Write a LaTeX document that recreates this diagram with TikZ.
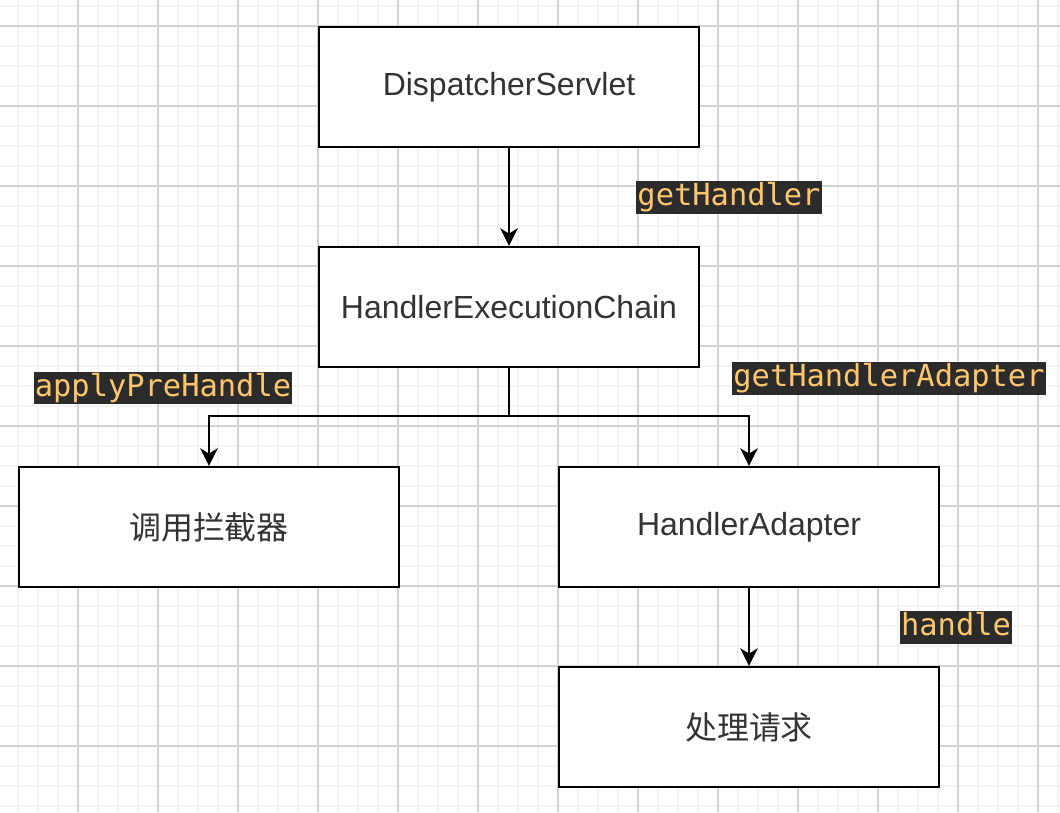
\documentclass[tikz,border=0pt]{standalone}
\usepackage{fontspec}
\setmainfont{Liberation Sans}
\newfontfamily\cjk{Noto Sans CJK SC}
\newfontfamily\codefont{DejaVu Sans Mono}
\usetikzlibrary{arrows.meta,positioning}

\definecolor{boxtext}{HTML}{333333}
\definecolor{codebg}{HTML}{2B2B2B}
\definecolor{codefg}{HTML}{FFC66D}
\definecolor{minorgrid}{HTML}{F3F3F3}
\definecolor{majorgrid}{HTML}{D2D2D2}

\begin{document}
\begin{tikzpicture}
  [node distance=4.4cm,on grid,>={Stealth[length=10pt,width=10pt,inset=3pt]},
   stage/.style={rectangle,draw=black,line width=1.3pt,fill=white,
     minimum width=7.6cm,minimum height=2.4cm,text=boxtext,font=\fontsize{18.2}{22}\selectfont},
   call/.style={fill=codebg,text=codefg,inner sep=0pt,inner xsep=0.6pt,
     text height=14pt,text depth=4.6pt,font=\codefont\fontsize{17.3}{20}\selectfont},
   link/.style={->,line width=1.3pt}]

  \useasboundingbox (0,0) rectangle (21.2,-16.24);

  % background grid
  \foreach \i in {0,...,52}
    \draw[minorgrid,line width=1.1pt] ({0.36+0.4*\i},0) -- ++(0,-16.24);
  \foreach \j in {0,...,40}
    \draw[minorgrid,line width=1.1pt] (0,{-0.12-0.4*\j}) -- ++(21.2,0);
  \foreach \i in {1,...,13}
    \draw[majorgrid,line width=0.6pt] ({-0.04+1.6*\i},0) -- ++(0,-16.24);
  \foreach \j in {0,...,9}
    \draw[majorgrid,line width=0.6pt] (0,{-0.52-1.6*\j}) -- ++(21.2,0);

  % stages
  \node [stage] (ds)    at (10.18,-1.74)                           {DispatcherServlet};
  \node [stage] (chain) [below=of ds]                              {HandlerExecutionChain};
  \node [stage] (inter) [below left=4.4cm and 6cm of chain]        {\cjk 调用拦截器};
  \node [stage] (adapt) [below right=4.4cm and 4.8cm of chain]     {HandlerAdapter};
  \node [stage] (req)   [below=4cm of adapt]                       {\cjk 处理请求};

  \path (chain.south) ++(0,-0.96) coordinate (fork);

  % connectors
  \draw [link] (ds) -- (chain);
  \draw [link] (chain.south) -- (fork) -| (inter.north);
  \draw [link] (fork) -| (adapt.north);
  \draw [link] (adapt) -- (req);

  % method names
  \node [call] (gh)  at (14.58,-3.95)  {getHandler};
  \node [call] (aph) at (3.26,-7.76)   {applyPreHandle};
  \node [call] (gha) at (17.78,-7.57)  {getHandlerAdapter};
  \node [call] (hd)  at (19.12,-12.55) {handle};

\end{tikzpicture}
\end{document}
